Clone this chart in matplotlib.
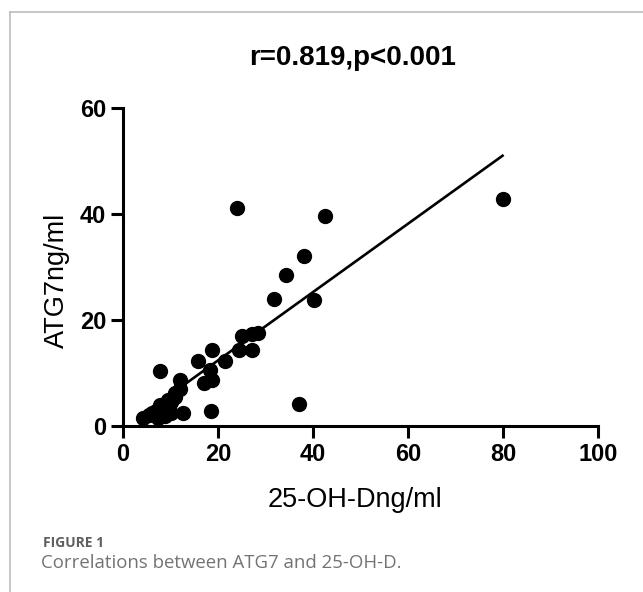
import numpy as np
import matplotlib.pyplot as plt
from matplotlib.lines import Line2D

# 25-OH-D (ng/ml) and ATG7 (ng/ml)
vitd = [4.3, 5.5, 6.0, 7.0, 7.4, 7.8, 8.5, 8.8, 9.5, 10.0, 10.2, 10.9, 11.0,
        12.7, 11.9, 11.9, 7.8, 18.5, 15.7, 17.1, 18.3, 18.7, 18.7, 21.4,
        24.5, 25.1, 27.2, 27.2, 28.4, 24.1, 31.7, 34.3, 38.0, 42.5, 40.2,
        37.0, 79.9]
atg7 = [1.6, 2.0, 2.4, 2.8, 1.6, 4.0, 3.5, 1.8, 4.9, 4.5, 2.4, 6.2, 5.5,
        2.5, 6.9, 8.7, 10.4, 2.9, 12.3, 8.1, 10.6, 8.7, 14.4, 12.3,
        14.4, 17.0, 14.4, 17.4, 17.5, 41.2, 24.0, 28.5, 32.0, 39.6, 23.8,
        4.1, 42.8]

x_ticks = [0, 20, 40, 60, 80, 100]
y_ticks = [0, 20, 40, 60]

plt.rcParams["font.family"] = ["Liberation Sans", "DejaVu Sans"]

fig = plt.figure(figsize=(6.43, 5.92), dpi=100)
ax = fig.add_axes([123 / 643, 1 - 426 / 592, 475 / 643, 318 / 592])

ax.scatter(vitd, atg7, s=100, color="black", zorder=3, clip_on=False)

# Linear regression line
x = np.array(vitd)
coef = np.polyfit(x, np.array(atg7), 1)
xs = np.array([x.min(), x.max()])
ax.plot(xs, np.polyval(coef, xs), color="black", linewidth=1.9, zorder=2)

ax.set_xlim(0, 100)
ax.set_ylim(0, 60)
ax.set_xticks(x_ticks)
ax.set_yticks(y_ticks)
for side in ["top", "right"]:
    ax.spines[side].set_visible(False)
for side in ["left", "bottom"]:
    ax.spines[side].set_linewidth(2.2)
ax.tick_params(direction="out", length=8.5, width=2.2, pad=3.5,
               labelsize=17)
for lab in ax.get_xticklabels() + ax.get_yticklabels():
    lab.set_fontweight("bold")

fig.text(353 / 643, 1 - 58 / 592, "r=0.819,p<0.001", ha="center",
         va="center", fontsize=20, fontweight="bold")
fig.text(355 / 643, 1 - 500 / 592, "25-OH-Dng/ml", ha="center",
         va="center", fontsize=19.5)
fig.text(57 / 643, 1 - 280 / 592, "ATG7ng/ml", ha="center", va="center",
         rotation=90, fontsize=19.5)

# caption
fig.text(43 / 643, 1 - 543 / 592, "FIGURE 1", ha="left", va="center",
         fontsize=10, fontweight="bold", color="#5f5f5f",
         family=["Open Sans", "DejaVu Sans"])
fig.text(41 / 643, 1 - 563 / 592, "Correlations between ATG7 and 25-OH-D.",
         ha="left", va="center", fontsize=13.4, color="#737373",
         family=["Open Sans", "DejaVu Sans"])

# frame lines (top and left)
fig.add_artist(Line2D([9.5 / 643, 1], [1 - 11.5 / 592] * 2,
                      transform=fig.transFigure, color="#bdbdbd", lw=1.2))
fig.add_artist(Line2D([9.5 / 643] * 2, [0, 1 - 11.5 / 592],
                      transform=fig.transFigure, color="#bdbdbd", lw=1.2))

fig.savefig("out.png", dpi=100)
